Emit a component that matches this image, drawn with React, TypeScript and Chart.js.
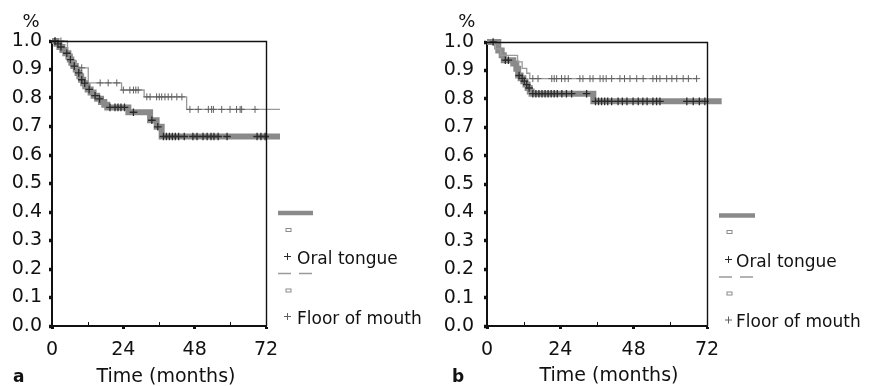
import React, { useEffect, useRef } from 'react';
import { Chart, registerables } from 'chart.js';

Chart.register(...registerables);

// ---------- text ----------
const seriesNames = ['Oral tongue', 'Floor of mouth'];
const panelLetters = ['a', 'b'];
const xTitle = 'Time (months)';
const yUnitLabel = '%';

// ---------- ticks ----------
const xMin = 0;
const xMax = 72;
const xMajorStep = 24;
const xMinorTicks = [12, 36, 60];
const yMin = 0;
const yMax = 1;
const yStep = 0.1;

// ---------- panel a ----------
const aOralTimes = [0, 1.5, 2.5, 3.5, 4.5, 5.5, 6, 6.5, 7.2, 8, 8.6, 9.2, 9.8, 10.5, 11.2, 12, 13, 14, 15.2, 16.5, 17.6, 18.6, 25.7, 33, 35.2, 36.9, 76.7];
const aOralSurv = [1, 0.99, 0.979, 0.968, 0.957, 0.946, 0.935, 0.924, 0.912, 0.9, 0.888, 0.876, 0.864, 0.852, 0.841, 0.83, 0.819, 0.808, 0.797, 0.786, 0.776, 0.767, 0.75, 0.722, 0.699, 0.665, 0.665];
const aOralCensored = [1, 2, 3, 5, 6.2, 7.5, 9, 10, 11, 12.5, 14.5, 16, 19.5, 21.2, 22.2, 23.2, 24.4, 27.4, 33.6, 35.6, 37.5, 38.5, 39.5, 40.5, 41.5, 42.6, 44.5, 47.4, 48.8, 50.8, 52.2, 53.5, 54.5, 55.9, 58.9, 69, 70.3, 71.7];

const aFloorTimes = [0, 5.2, 6.5, 8.2, 12.2, 23.4, 31, 45.3, 76.7];
const aFloorSurv = [1, 0.94, 0.929, 0.906, 0.853, 0.828, 0.804, 0.76, 0.76];
const aFloorCensored = [1, 3, 10, 16.2, 18.9, 21.8, 24, 26.2, 27.4, 28.2, 29, 31.9, 33, 35.2, 36.1, 36.9, 38, 39.1, 40.3, 42, 43.7, 46.4, 49.2, 52.6, 53.7, 54.3, 57.1, 59.9, 62.1, 63.3, 63.8, 68.3];

// ---------- panel b ----------
const bOralTimes = [0, 3.7, 4.8, 5.5, 8.6, 9.6, 10.2, 11, 11.9, 12.6, 13.3, 14, 14.6, 34.8, 76.8];
const bOralSurv = [1, 0.97, 0.953, 0.936, 0.924, 0.906, 0.882, 0.872, 0.862, 0.85, 0.838, 0.826, 0.818, 0.791, 0.791];
const bOralCensored = [2, 6, 7, 10.5, 11.5, 12.2, 13, 13.8, 15, 16, 17, 18, 19, 20, 21, 22, 23, 24.5, 26, 27.7, 32.6, 35.5, 36.5, 37.5, 38.5, 39.5, 40.8, 42.9, 44.3, 45.8, 47.8, 49.5, 51, 52.4, 54.3, 55.5, 56.6, 65.4, 67.5, 69.5, 71.3];

const bFloorTimes = [0, 2.5, 4.5, 10, 11.5, 13, 14, 68.6];
const bFloorSurv = [1, 0.976, 0.953, 0.93, 0.907, 0.89, 0.871, 0.871];
const bFloorCensored = [15, 16.7, 21.2, 22, 22.8, 24.4, 25.5, 26.6, 30.4, 31.4, 33.7, 34.7, 37, 38, 39, 40.8, 43.5, 45, 46.8, 49, 51.1, 54.3, 55.5, 56.6, 58.8, 60.5, 62.1, 64.2, 65.9, 68.6];

// ---------- styles ----------
const FONT = "'DejaVu Sans', sans-serif";
const INK = '#111111';
const ORAL_LINE = '#8a8a8a';
const ORAL_MARK = '#2a2a2a';
const FLOOR_LINE = '#9a9a9a';
const FLOOR_MARK = '#606060';
const CW = 438;
const CH = 386;

type Layout = {
  canvasLeft: number;
  area: { left: number; right: number; top: number; bottom: number };
  yPad: number;
  pct: { x: number; y: number };
  letter: { x: number; y: number };
  title: { x: number; y: number };
  legend: {
    x0: number; x1: number; barY: number; sqX: number; sq1Y: number; plusX: number;
    plus1Y: number; textX: number; text1Y: number; dashY: number; sq2Y: number;
    plus2Y: number; text2Y: number;
  };
};

type PanelData = {
  letter: string;
  oralT: number[]; oralS: number[]; oralC: number[];
  floorT: number[]; floorS: number[]; floorC: number[];
};

const stepValue = (times: number[], surv: number[], t: number) => {
  let v = surv[0];
  for (let i = 0; i < times.length; i++) {
    if (times[i] <= t) v = surv[i];
  }
  return v;
};

function Panel({ data, layout }: { data: PanelData; layout: Layout }) {
  const ref = useRef<HTMLCanvasElement>(null);

  useEffect(() => {
    const L = layout;
    const off = L.canvasLeft;
    const decor = {
      id: 'decor',
      afterDraw(chart: any) {
        const ctx = chart.ctx as CanvasRenderingContext2D;
        const ca = chart.chartArea;
        const xs = chart.scales.x;
        ctx.save();
        // top & right frame
        ctx.strokeStyle = INK;
        ctx.lineWidth = 1.4;
        ctx.beginPath();
        ctx.moveTo(ca.left, ca.top + 0.5);
        ctx.lineTo(ca.right + 0.5, ca.top + 0.5);
        ctx.lineTo(ca.right + 0.5, ca.bottom);
        ctx.stroke();
        // inner minor ticks
        ctx.lineWidth = 1;
        xMinorTicks.forEach((t) => {
          const px = Math.round(xs.getPixelForValue(t)) + 0.5;
          ctx.beginPath();
          ctx.moveTo(px, ca.bottom);
          ctx.lineTo(px, ca.bottom - 4);
          ctx.stroke();
        });
        // % label
        ctx.fillStyle = INK;
        ctx.font = `18px ${FONT}`;
        ctx.textAlign = 'center';
        ctx.textBaseline = 'alphabetic';
        ctx.fillText(yUnitLabel, L.pct.x - off, L.pct.y);
        // axis title
        ctx.font = `19px ${FONT}`;
        ctx.fillText(xTitle, L.title.x - off, L.title.y);
        // panel letter
        ctx.font = `bold 17px ${FONT}`;
        ctx.textAlign = 'left';
        ctx.fillText(data.letter, L.letter.x - off, L.letter.y);

        // legend
        const g = L.legend;
        const plus = (x: number, y: number, color: string) => {
          ctx.strokeStyle = color;
          ctx.lineWidth = 1;
          ctx.beginPath();
          ctx.moveTo(x - 3.5, y);
          ctx.lineTo(x + 3.5, y);
          ctx.moveTo(x, y - 3.5);
          ctx.lineTo(x, y + 3.5);
          ctx.stroke();
        };
        const square = (x: number, y: number) => {
          ctx.strokeStyle = '#8a8a8a';
          ctx.lineWidth = 1;
          ctx.strokeRect(x - 2.5 - off, y - 1.5, 5, 3);
        };
        ctx.lineCap = 'butt';
        ctx.strokeStyle = ORAL_LINE;
        ctx.lineWidth = 4.5;
        ctx.beginPath();
        ctx.moveTo(g.x0 - off, g.barY);
        ctx.lineTo(g.x1 - off, g.barY);
        ctx.stroke();
        square(g.sqX, g.sq1Y);
        plus(g.plusX - off, g.plus1Y, ORAL_MARK);
        ctx.fillStyle = INK;
        ctx.font = `17px ${FONT}`;
        ctx.fillText(seriesNames[0], g.textX - off, g.text1Y);

        ctx.strokeStyle = FLOOR_LINE;
        ctx.lineWidth = 1.3;
        ctx.setLineDash([13, 8]);
        ctx.beginPath();
        ctx.moveTo(g.x0 - off, g.dashY);
        ctx.lineTo(g.x1 - off, g.dashY);
        ctx.stroke();
        ctx.setLineDash([]);
        square(g.sqX, g.sq2Y);
        plus(g.plusX - off, g.plus2Y, FLOOR_MARK);
        ctx.fillText(seriesNames[1], g.textX - off, g.text2Y);
        ctx.restore();
      },
    };

    const toPts = (t: number[], s: number[]) => t.map((x, i) => ({ x, y: s[i] }));
    const censorPts = (c: number[], t: number[], s: number[]) =>
      c.map((x) => ({ x, y: stepValue(t, s, x) }));

    const chart = new Chart(ref.current as HTMLCanvasElement, {
      type: 'scatter',
      data: {
        datasets: [
          {
            label: seriesNames[0] + ' censored',
            data: censorPts(data.oralC, data.oralT, data.oralS),
            showLine: false,
            pointStyle: 'cross',
            pointRadius: 3.8,
            borderColor: ORAL_MARK,
            backgroundColor: ORAL_MARK,
            pointBorderWidth: 1.3,
            clip: false,
          } as any,
          {
            label: seriesNames[1] + ' censored',
            data: censorPts(data.floorC, data.floorT, data.floorS),
            showLine: false,
            pointStyle: 'cross',
            pointRadius: 3.5,
            borderColor: FLOOR_MARK,
            backgroundColor: FLOOR_MARK,
            pointBorderWidth: 1,
            clip: false,
          },
          {
            label: seriesNames[1],
            data: toPts(data.floorT, data.floorS),
            showLine: true,
            stepped: 'before',
            borderColor: FLOOR_LINE,
            borderWidth: 1.3,
            pointRadius: 0,
            clip: false,
          },
          {
            label: seriesNames[0],
            data: toPts(data.oralT, data.oralS),
            showLine: true,
            stepped: 'before',
            borderColor: ORAL_LINE,
            borderWidth: 6,
            borderCapStyle: 'butt',
            borderJoinStyle: 'miter',
            pointRadius: 0,
            clip: false,
          },
        ],
      },
      options: {
        animation: false,
        responsive: false,
        devicePixelRatio: 1,
        events: [],
        layout: {
          padding: {
            left: 0,
            top: L.area.top,
            right: CW - (L.area.right - off),
            bottom: 0,
          },
        },
        plugins: {
          legend: { display: false },
          tooltip: { enabled: false },
        },
        scales: {
          x: {
            type: 'linear',
            min: xMin,
            max: xMax,
            afterFit: (s: any) => {
              s.height = CH - L.area.bottom;
            },
            ticks: {
              stepSize: xMajorStep,
              color: INK,
              font: { family: FONT, size: 19 },
              padding: 10,
              maxRotation: 0,
            },
            grid: {
              drawOnChartArea: false,
              drawTicks: true,
              tickLength: 3,
              tickWidth: 3,
              tickColor: INK,
            },
            border: { display: true, color: INK, width: 2 },
          },
          y: {
            type: 'linear',
            min: yMin,
            max: yMax,
            afterFit: (s: any) => {
              s.width = L.area.left - off;
            },
            ticks: {
              stepSize: yStep,
              color: INK,
              font: { family: FONT, size: 19 },
              padding: L.yPad,
              callback: (v: any) => Number(v).toFixed(1),
            },
            grid: {
              drawOnChartArea: false,
              drawTicks: true,
              tickLength: 3,
              tickWidth: 3.5,
              tickColor: INK,
            },
            border: { display: true, color: INK, width: 2 },
          },
        },
      },
      plugins: [decor],
    });
    return () => chart.destroy();
  }, []);

  return (
    <canvas
      ref={ref}
      width={CW}
      height={CH}
      style={{ position: 'absolute', left: layout.canvasLeft, top: 0, width: CW, height: CH }}
    />
  );
}

const layoutA: Layout = {
  canvasLeft: 0,
  area: { left: 52, right: 266, top: 41, bottom: 326 },
  yPad: 7,
  pct: { x: 31, y: 26.5 },
  letter: { x: 13, y: 382 },
  title: { x: 166, y: 381.5 },
  legend: {
    x0: 278, x1: 313, barY: 213, sqX: 288.5, sq1Y: 230, plusX: 287.5, plus1Y: 256.5,
    textX: 297, text1Y: 264, dashY: 273.5, sq2Y: 290.5, plus2Y: 316.5, text2Y: 323.5,
  },
};

const layoutB: Layout = {
  canvasLeft: 438,
  area: { left: 487, right: 707, top: 42, bottom: 326 },
  yPad: 10,
  pct: { x: 466.7, y: 26.5 },
  letter: { x: 452, y: 382 },
  title: { x: 609, y: 381 },
  legend: {
    x0: 719, x1: 755, barY: 215.5, sqX: 729.5, sq1Y: 232, plusX: 728.5, plus1Y: 259.5,
    textX: 736, text1Y: 266.5, dashY: 277, sq2Y: 293.5, plus2Y: 320, text2Y: 326.5,
  },
};

const panelA: PanelData = {
  letter: panelLetters[0],
  oralT: aOralTimes, oralS: aOralSurv, oralC: aOralCensored,
  floorT: aFloorTimes, floorS: aFloorSurv, floorC: aFloorCensored,
};

const panelB: PanelData = {
  letter: panelLetters[1],
  oralT: bOralTimes, oralS: bOralSurv, oralC: bOralCensored,
  floorT: bFloorTimes, floorS: bFloorSurv, floorC: bFloorCensored,
};

export default function App() {
  return (
    <div style={{ position: 'absolute', left: 0, top: 0, width: 876, height: 386, background: '#ffffff' }}>
      <Panel data={panelA} layout={layoutA} />
      <Panel data={panelB} layout={layoutB} />
    </div>
  );
}
